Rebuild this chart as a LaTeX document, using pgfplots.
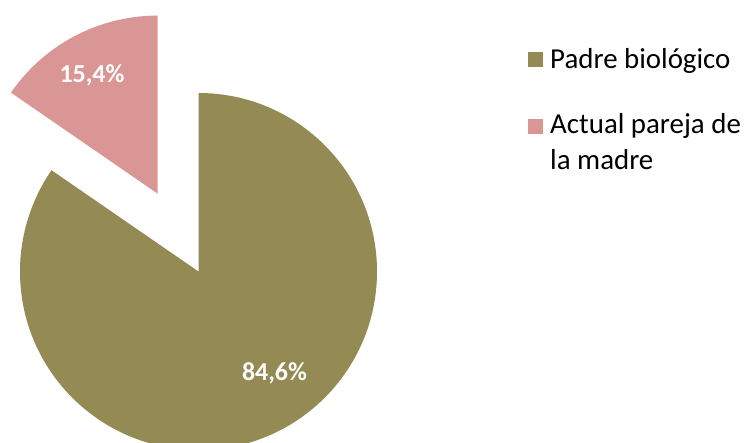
\documentclass[border=0pt]{standalone}
\usepackage{pgfplots}
\pgfplotsset{compat=1.18}
\usetikzlibrary{calc}
\usepackage{fontspec}
\setmainfont{Carlito}
\definecolor{olivec}{HTML}{948A54}
\definecolor{pinkc}{HTML}{D99694}
\begin{document}
\begin{tikzpicture}
% data (percent)
\pgfmathsetmacro\pA{84.6}% Padre biologico
\pgfmathsetmacro\pB{15.4}% Actual pareja de la madre
\pgfmathsetmacro\angA{90-3.6*\pA}
\pgfmathsetmacro\bis{90+1.8*\pB}
\begin{axis}[
  x=1bp, y=1bp,
  xmin=0, xmax=748, ymin=0, ymax=443,
  hide axis, clip=true,
  axis line style={draw=none},
]
% big slice
\fill[olivec] (axis cs:198.5,171.5) -- (axis cs:198.5,350) arc[start angle=90, end angle=\angA, radius=178.5bp] -- cycle;
% exploded small slice
\fill[pinkc] ($(axis cs:198.5,171.5)+(\bis:88bp)$) coordinate (c2) -- ++(\angA+360:178bp) arc[start angle=\angA+360, end angle=90, radius=178bp] -- cycle;
% labels
\node[text=white, font=\fontsize{26}{30}\selectfont\bfseries] at (axis cs:92,368) {15,4\%};
\node[text=white, font=\fontsize{26}{30}\selectfont\bfseries] at (axis cs:274.5,70) {84,6\%};
% legend
\fill[olivec] (axis cs:527.5,375.5) rectangle (axis cs:542.5,390.5);
\fill[pinkc] (axis cs:527.5,309) rectangle (axis cs:542.5,324);
\node[anchor=base west, inner sep=0pt, font=\fontsize{29}{36}\selectfont] at (axis cs:550,374.7) {Padre biológico};
\node[anchor=base west, inner sep=0pt, font=\fontsize{29}{36}\selectfont] at (axis cs:550,309) {Actual pareja de};
\node[anchor=base west, inner sep=0pt, font=\fontsize{29}{36}\selectfont] at (axis cs:550,273) {la madre};
\end{axis}
\pgfresetboundingbox
\path (current axis.south west) rectangle (current axis.north east);
\end{tikzpicture}
\end{document}
